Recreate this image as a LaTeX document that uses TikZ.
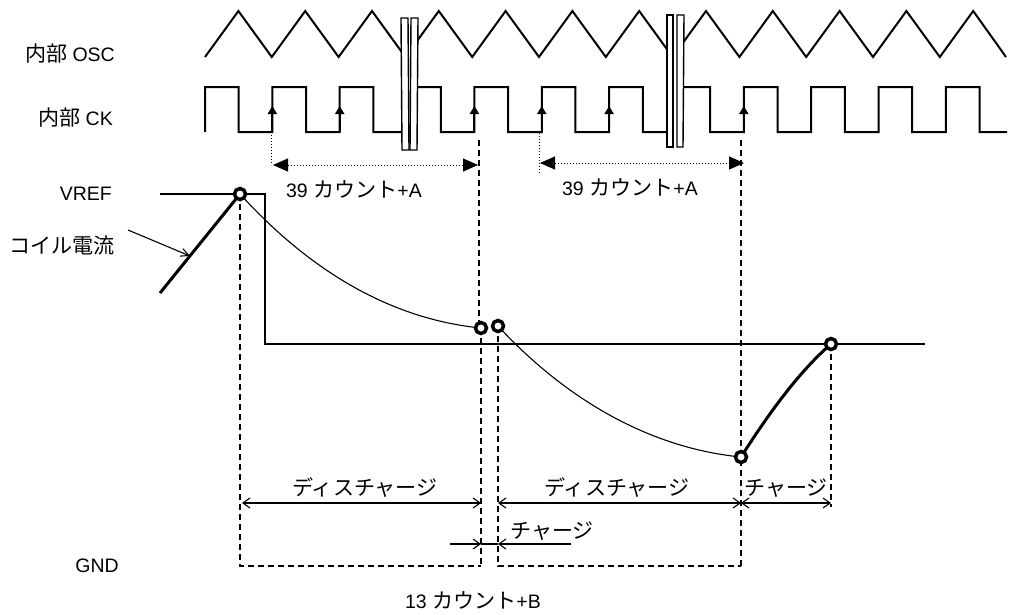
\documentclass[tikz,border=0pt]{standalone}
\usepackage{fontspec}
\setmainfont{Liberation Sans}
\newfontfamily\jp[Scale=1.08]{Noto Sans CJK JP}
\usetikzlibrary{arrows.meta}
\begin{document}
\begin{tikzpicture}[x=1pt,y=-1pt,
  wave/.style={line width=2pt, line join=miter},
  thinln/.style={line width=1.1pt},
  thickln/.style={line width=3pt},
  dashln/.style={line width=1.1pt, dash pattern=on 6pt off 4pt},
  dotln/.style={line width=1pt, dash pattern=on 1pt off 2pt},
  lbl/.style={inner sep=0pt, font=\fontsize{19.5}{22}\selectfont},
  dot/.style={circle, draw, fill=white, line width=3.5pt, minimum size=11pt, inner sep=0pt},
  dimarr/.style={thinln, {Straight Barb[length=7pt,width=10pt]}-{Straight Barb[length=7pt,width=10pt]}},
  onearr/.style={thinln, -{Straight Barb[length=7pt,width=10pt]}},
  bigarr/.style={dotln, {Triangle[length=15pt,width=13pt]}-{Triangle[length=15pt,width=13pt]}},
  edgearr/.style={line width=2pt, -{Triangle[length=8pt,width=9pt]}},
  brk/.style={draw, fill=white, line width=1.4pt}
]
\useasboundingbox (0,0) rectangle (1009,614);

% ---------- labels ----------
\node[lbl, anchor=east] (losc) at (115,54) {{\jp 内部} OSC};
\node[lbl, anchor=east] (lck) at (113,118) {{\jp 内部} CK};
\node[lbl, anchor=east] (lvref) at (112,194) {VREF};
\node[lbl, anchor=east] (lcoil) at (115,245) {\jp コイル電流};
\node[lbl, anchor=east] (lgnd) at (119,566) {GND};

% ---------- OSC triangle wave ----------
\draw[wave] (205,57) \foreach \i in {0,...,10} { -- ({238.4+66.8*\i},11) -- ({271.8+66.8*\i},57) } -- (973.2,11) -- (1006,57);

% ---------- CK square wave ----------
\draw[wave] (205,132) \foreach \i in {0,...,10} { -- ({205+67.35*\i},87) -- ({238.7+67.35*\i},87) -- ({238.7+67.35*\i},132) -- ({272.35+67.35*\i},132) } -- (945.85,87) -- (979.5,87) -- (979.5,132) -- (1007,132);

% rising-edge arrows
\foreach \x/\n in {272.35/e1, 339.7/e2, 474.4/e3, 541.75/e4, 609.1/e5, 743.8/e6} {
  \coordinate (\n a) at (\x,132);
  \coordinate (\n b) at (\x,106);
  \draw[edgearr] (\n a) -- (\n b);
}

% ---------- break marks ----------
\fill[white] (401,18) rectangle (418,150);
\draw[brk] (401,18) -- (408,18) -- (409,150) -- (402,150) -- cycle;
\draw[brk] (411,18) -- (418,18) -- (417,150) -- (410,150) -- cycle;
\fill[white] (667,15) rectangle (684,147);
\draw[brk] (667,15) -- (673,15) -- (673,147) -- (667,147) -- cycle;
\draw[brk] (677,15) -- (684,15) -- (683,147) -- (677,147) -- cycle;

% ---------- count arrows ----------
\coordinate (c1a) at (271,132);
\coordinate (c1b) at (271,165);
\coordinate (c1c) at (273,165);
\coordinate (c1d) at (478,165);
\draw[dotln] (c1a) -- (c1b);
\draw[bigarr] (c1c) -- (c1d);
\node[lbl] (t39a) at (354,189) {39 {\jp カウント}+A};

\coordinate (c2a) at (539,133);
\coordinate (c2b) at (539,173);
\coordinate (c2c) at (540,163);
\coordinate (c2d) at (744,163);
\draw[dotln] (c2a) -- (c2b);
\draw[bigarr] (c2c) -- (c2d);
\node[lbl] (t39b) at (630,187) {39 {\jp カウント}+A};

% ---------- key points ----------
\coordinate (p1) at (240,194);
\coordinate (p2) at (481,328);
\coordinate (p3) at (498,326);
\coordinate (p4) at (741,457);
\coordinate (p5) at (831,344);

% ---------- dashed verticals and boxes ----------
\draw[dashln] (240,194) -- (240,566) -- (481,566);
\draw[dashln] (479,140) -- (479,328);
\draw[dashln] (481,328) -- (481,566);
\draw[dashln] (498,326) -- (498,566) -- (741,566);
\draw[dashln] (741,140) -- (741,566);
\draw[dashln] (831,344) -- (831,507);

% ---------- VREF / threshold line ----------
\draw[thinln] (160,194) -- (265,194) -- (265,344) -- (925,344);

% ---------- coil current ----------
\coordinate (cs) at (160,293);
\draw[thickln] (cs) -- (p1);
\coordinate (ca) at (128,230);
\coordinate (cb) at (190,256);
\draw[thinln, -{Straight Barb[length=8pt,width=8pt]}] (ca) -- (cb);

\draw[thinln] (p1) .. controls (300,260) and (380,318) .. (p2);
\draw[thinln] (p3) .. controls (557,390) and (640,447) .. (p4);
\draw[thickln] (p4) .. controls (762,424) and (795,375) .. (p5);

\foreach \p in {p1,p2,p3,p4,p5} { \node[dot] at (\p) {}; }

% ---------- dimension arrows ----------
\coordinate (d1a) at (242,503);
\coordinate (d1b) at (481,503);
\draw[dimarr] (d1a) -- (d1b);
\node[lbl] (tdis1) at (365,487) {\jp ディスチャージ};

\coordinate (d2a) at (498,503);
\coordinate (d2b) at (741,503);
\draw[dimarr] (d2a) -- (d2b);
\node[lbl] (tdis2) at (617,487) {\jp ディスチャージ};

\coordinate (d3a) at (741,503);
\coordinate (d3b) at (831,503);
\draw[dimarr] (d3a) -- (d3b);
\node[lbl] (tch1) at (786,488) {\jp チャージ};

\coordinate (s1) at (450,544);
\coordinate (s2) at (571,544);
\draw[onearr] (s1) -- (d1b |- s1);
\draw[onearr] (s2) -- (d2a |- s2);
\draw[thinln] (d1b |- s1) -- (d2a |- s2);
\node[lbl] (tch2) at (552,531) {\jp チャージ};

\node[lbl] (t13) at (473,600) {13 {\jp カウント}+B};
\end{tikzpicture}
\end{document}
